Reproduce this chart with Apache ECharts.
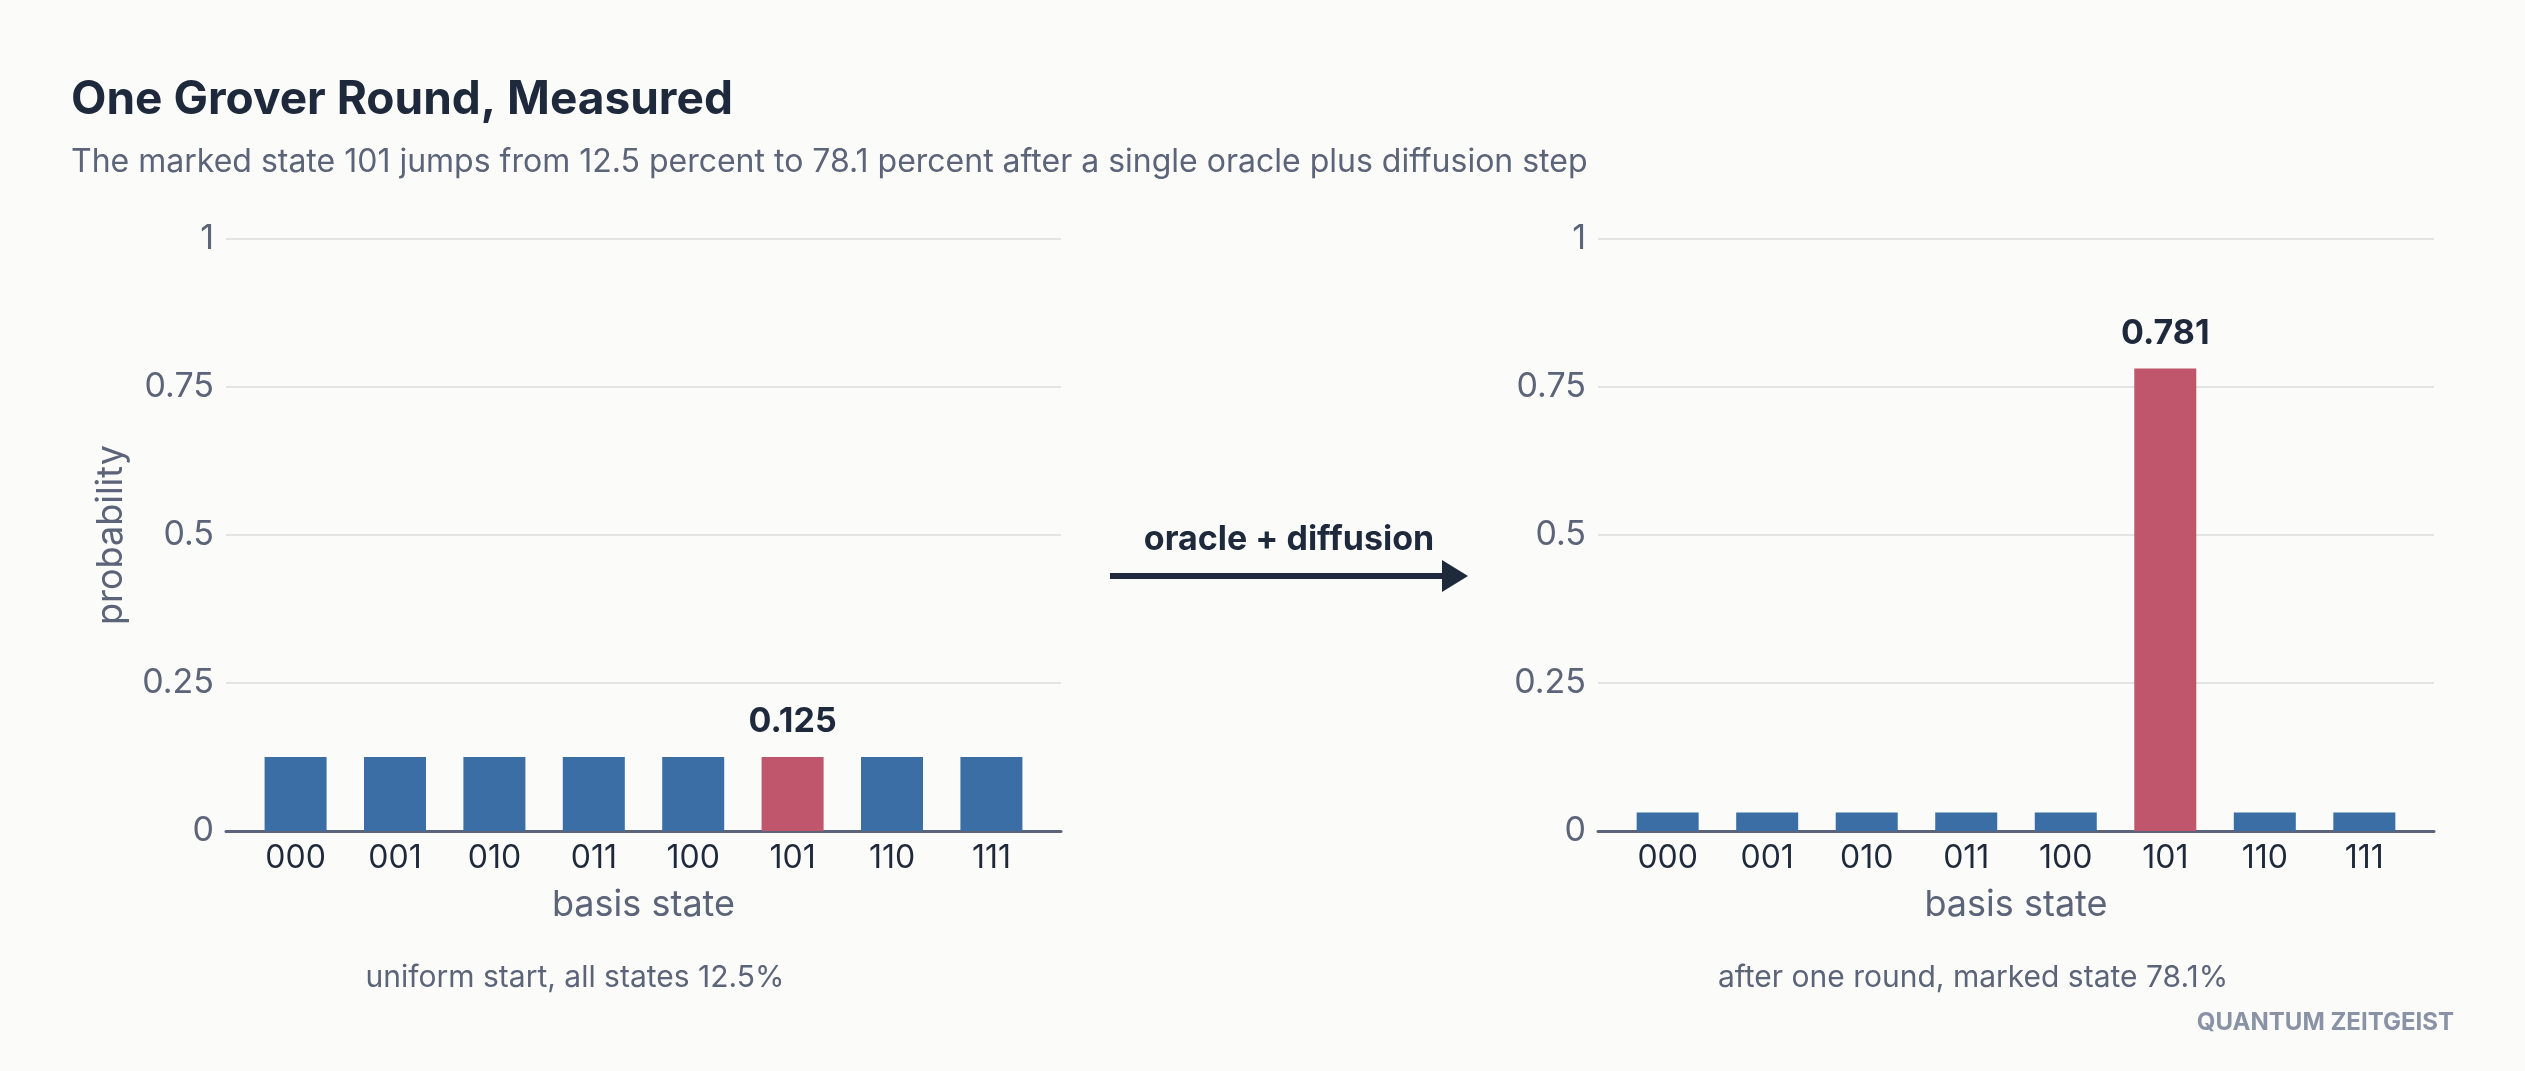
<!DOCTYPE html>
<html>
<head>
<meta charset="utf-8">
<script src="https://cdn.jsdelivr.net/npm/echarts@6/dist/echarts.min.js"></script>
<style>
html,body{margin:0;padding:0;background:#fbfbf9;}
#chart{width:2525px;height:1071px;}
</style>
</head>
<body>
<div id="chart"></div>
<script>
const states = ['000','001','010','011','100','101','110','111'];
const probBefore = [0.125,0.125,0.125,0.125,0.125,0.125,0.125,0.125];
const probAfter = [0.03125,0.03125,0.03125,0.03125,0.03125,0.78125,0.03125,0.03125];
const markedIndex = 5;
const yTicks = [0,0.25,0.5,0.75,1];

const FONT = 'Inter';
const DARK = '#1e293b';
const GRAY = '#5b6478';
const BLUE = '#3b6ea5';
const RED = '#c0566b';

function barData(vals){
  return vals.map((v,i)=>({
    value:[i,v],
    itemStyle:{color: i===markedIndex ? RED : BLUE},
    label:{show: i===markedIndex}
  }));
}

function xAxisCfg(gridIndex){
  return {
    type:'value', gridIndex, min:-0.7, max:7.7,
    axisLine:{show:true, onZero:true, lineStyle:{color:GRAY, width:3}},
    axisTick:{show:false},
    splitLine:{show:false},
    axisLabel:{customValues:states.map((s,i)=>i), formatter:v=>states[Math.round(v)], color:DARK, fontSize:32, fontFamily:FONT, margin:11},
    name:'basis state', nameLocation:'middle', nameGap:56,
    nameTextStyle:{color:GRAY, fontSize:36, fontFamily:FONT}
  };
}
function yAxisCfg(gridIndex, withName){
  const c = {
    type:'value', gridIndex, min:0, max:1, interval:0.25,
    axisLine:{show:false}, axisTick:{show:false},
    splitLine:{show:true, lineStyle:{color:'#e4e4e4', width:2}},
    axisLabel:{color:GRAY, fontSize:34, fontFamily:FONT, margin:12, customValues:yTicks}
  };
  if(withName){
    c.name='probability'; c.nameLocation='middle'; c.nameGap=97;
    c.nameTextStyle={color:GRAY, fontSize:36, fontFamily:FONT};
  }
  return c;
}
function seriesCfg(idx, vals){
  return {
    type:'bar', xAxisIndex:idx, yAxisIndex:idx, barWidth:62,
    data:barData(vals),
    label:{position:'top', distance:18, color:DARK, fontSize:34, fontWeight:'bold', fontFamily:FONT,
      formatter:p=>p.value[1].toFixed(3)},
    animation:false
  };
}

const chart = echarts.init(document.getElementById('chart'));
chart.setOption({
  backgroundColor:'#fbfbf9',
  animation:false,
  grid:[
    {left:226, top:239, width:835, height:592},
    {left:1598, top:239, width:836, height:592}
  ],
  xAxis:[xAxisCfg(0), xAxisCfg(1)],
  yAxis:[yAxisCfg(0,true), yAxisCfg(1,false)],
  series:[seriesCfg(0, probBefore), seriesCfg(1, probAfter)],
  graphic:[
    {type:'text', left:71, top:77, style:{text:'One Grover Round, Measured', fill:DARK, font:'bold 46px Inter'}},
    {type:'text', left:71, top:146, style:{text:'The marked state 101 jumps from 12.5 percent to 78.1 percent after a single oracle plus diffusion step', fill:GRAY, font:'32px Inter'}},
    {type:'text', x:1289, y:540, style:{text:'oracle + diffusion', fill:DARK, font:'bold 34px Inter', align:'center', verticalAlign:'middle'}},
    {type:'line', shape:{x1:1110, y1:576, x2:1444, y2:576}, style:{stroke:DARK, lineWidth:6}},
    {type:'polygon', shape:{points:[[1442,560],[1468,576],[1442,592]]}, style:{fill:DARK}},
    {type:'text', x:575, y:978, style:{text:'uniform start, all states 12.5%', fill:GRAY, font:'30px Inter', align:'center', verticalAlign:'middle'}},
    {type:'text', x:1973, y:978, style:{text:'after one round, marked state 78.1%', fill:GRAY, font:'30px Inter', align:'center', verticalAlign:'middle'}},
    {type:'text', x:2454, y:1023, style:{text:'QUANTUM ZEITGEIST', fill:'#8a93a6', font:'bold 24px Inter', align:'right', verticalAlign:'middle'}}
  ]
});
</script>
</body>
</html>
